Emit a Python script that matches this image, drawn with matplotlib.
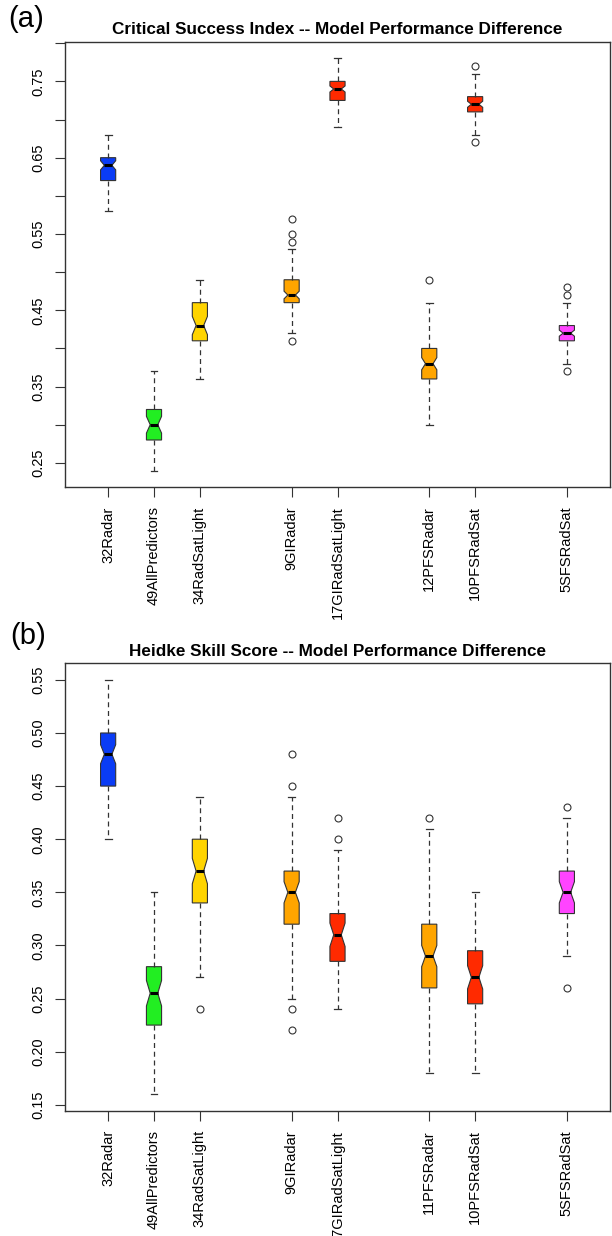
import matplotlib.pyplot as plt
import numpy as np

plt.rcParams['font.family'] = ['Liberation Sans', 'DejaVu Sans']

positions = [1, 2, 3, 5, 6, 8, 9, 11]
colors = ['#0a3cf5', '#22ee22', '#ffd400', '#ffa500', '#ff2a00', '#ffa500', '#ff2a00', '#ff44ff']

# panel (a): Critical Success Index
labels_a = ['32Radar', '49AllPredictors', '34RadSatLight', '9GIRadar', '17GIRadSatLight',
            '12PFSRadar', '10PFSRadSat', '5SFSRadSat']
wlo_a = [0.58, 0.24, 0.36, 0.42, 0.69, 0.30, 0.68, 0.38]
q1_a = [0.62, 0.28, 0.41, 0.46, 0.725, 0.36, 0.71, 0.41]
med_a = [0.64, 0.30, 0.43, 0.47, 0.74, 0.38, 0.72, 0.42]
q3_a = [0.65, 0.32, 0.46, 0.49, 0.75, 0.40, 0.73, 0.43]
whi_a = [0.68, 0.37, 0.49, 0.53, 0.78, 0.46, 0.76, 0.46]
notch_a = [0.006, 0.011, 0.012, 0.005, 0.004, 0.008, 0.004, 0.004]
fliers_a = [[], [], [], [0.57, 0.55, 0.54, 0.41], [], [0.49], [0.77, 0.67], [0.48, 0.47, 0.37]]

# panel (b): Heidke Skill Score
labels_b = ['32Radar', '49AllPredictors', '34RadSatLight', '9GIRadar', '17GIRadSatLight',
            '11PFSRadar', '10PFSRadSat', '5SFSRadSat']
wlo_b = [0.40, 0.16, 0.27, 0.25, 0.24, 0.18, 0.18, 0.29]
q1_b = [0.45, 0.225, 0.34, 0.32, 0.285, 0.26, 0.245, 0.33]
med_b = [0.48, 0.255, 0.37, 0.35, 0.31, 0.29, 0.27, 0.35]
q3_b = [0.50, 0.28, 0.40, 0.37, 0.33, 0.32, 0.295, 0.37]
whi_b = [0.55, 0.35, 0.44, 0.44, 0.39, 0.41, 0.35, 0.42]
notch_b = [0.009, 0.012, 0.012, 0.01, 0.011, 0.01, 0.011, 0.01]
fliers_b = [[], [], [0.24], [0.48, 0.45, 0.24, 0.22], [0.42, 0.40], [0.42], [], [0.43, 0.26]]


def draw(ax, labels, wlo, q1, med, q3, whi, notch, fliers, ylim, yticks, ylabels):
    stats = []
    for i in range(len(labels)):
        stats.append(dict(whislo=wlo[i], q1=q1[i], med=med[i], q3=q3[i], whishi=whi[i],
                          cilo=med[i] - notch[i], cihi=med[i] + notch[i],
                          fliers=fliers[i], label=labels[i]))
    bp = ax.bxp(stats, positions=positions, widths=0.33, shownotches=True,
                patch_artist=True, capwidths=0.15,
                boxprops=dict(edgecolor='#333333', linewidth=0.8),
                medianprops=dict(color='black', linewidth=2.2),
                whiskerprops=dict(color='#333333', linestyle=(0, (4, 3)), linewidth=0.9),
                capprops=dict(color='#333333', linewidth=0.9),
                flierprops=dict(marker='o', markerfacecolor='none', markeredgecolor='#333333',
                                markersize=5, markeredgewidth=0.8))
    for patch, c in zip(bp['boxes'], colors):
        patch.set_facecolor(c)
    ax.set_xlim(0.06, 11.94)
    ax.set_ylim(*ylim)
    ax.set_yticks(yticks)
    ax.set_yticklabels(ylabels, rotation=90, va='center', fontsize=10.5)
    ax.set_xticks(positions)
    ax.set_xticklabels(labels, rotation=90, fontsize=10.5)
    ax.tick_params(length=7, width=0.8, color='#333333', pad=7)
    for s in ax.spines.values():
        s.set_color('#333333')
        s.set_linewidth(1.0)


fig = plt.figure(figsize=(6.12, 12.36), dpi=100)
ax1 = fig.add_axes([65 / 612, 1 - 487 / 1236, 545 / 612, 445 / 1236])
ax2 = fig.add_axes([65 / 612, 1 - 1110.7 / 1236, 545 / 612, 447.4 / 1236])

yt_a = np.round(np.arange(0.25, 0.801, 0.05), 2)
draw(ax1, labels_a, wlo_a, q1_a, med_a, q3_a, whi_a, notch_a, fliers_a,
     (0.2184, 0.8016), yt_a, ['%.2f' % v if i % 2 == 0 else '' for i, v in enumerate(yt_a)])

yt_b = np.round(np.arange(0.15, 0.551, 0.05), 2)
draw(ax2, labels_b, wlo_b, q1_b, med_b, q3_b, whi_b, notch_b, fliers_b,
     (0.1444, 0.5656), yt_b, ['%.2f' % v for v in yt_b])

fig.text(337.5 / 612, 1 - 30 / 1236, 'Critical Success Index -- Model Performance Difference',
         ha='center', va='center', fontsize=12.3, fontweight='bold')
fig.text(337.5 / 612, 1 - 651 / 1236, 'Heidke Skill Score -- Model Performance Difference',
         ha='center', va='center', fontsize=12.3, fontweight='bold')
fig.text(8 / 612, 1 - 19 / 1236, '(a)', ha='left', va='center', fontsize=21)
fig.text(10 / 612, 1 - 636 / 1236, '(b)', ha='left', va='center', fontsize=21)

fig.savefig('out.png', dpi=100)
